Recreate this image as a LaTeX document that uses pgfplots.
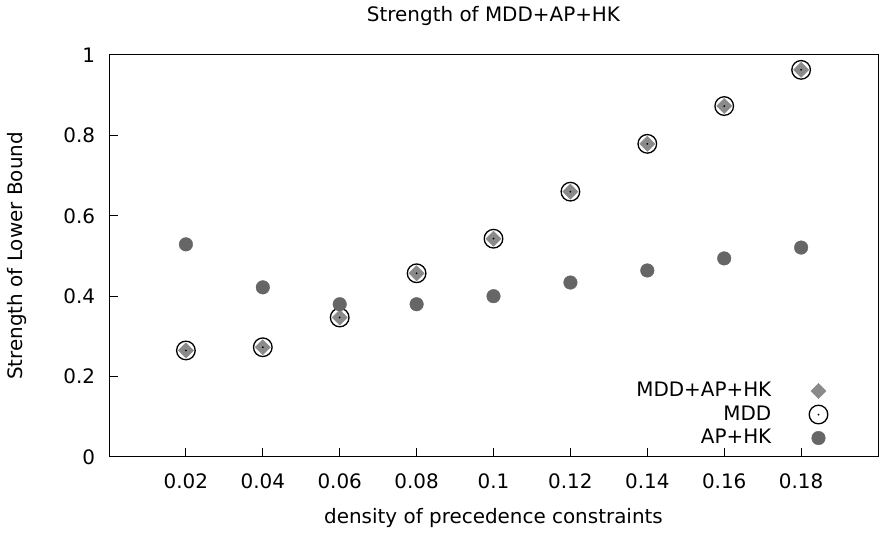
\documentclass[border=0pt]{standalone}
\usepackage{fontspec}
\setmainfont{DejaVu Sans}
\usepackage{pgfplots}
\pgfplotsset{compat=1.18}
\pgfdeclareplotmark{odot}{%
  \pgfpathcircle{\pgfpointorigin}{\pgfplotmarksize}\pgfusepathqstroke
  \pgfpathcircle{\pgfpointorigin}{1bp}\pgfusepathqfill}
\definecolor{diagray}{HTML}{8A8A8A}
\definecolor{dotgray}{HTML}{666666}
\begin{document}
\fontsize{20}{23}\selectfont
\begin{tikzpicture}[x=1bp,y=1bp]
\useasboundingbox (0,0) rectangle (882,533);
\begin{axis}[
  at={(109bp,76bp)}, anchor=south west,
  scale only axis, width=769bp, height=402bp,
  xmin=0, xmax=0.2, ymin=0, ymax=1,
  xtick={0.02,0.04,0.06,0.08,0.1,0.12,0.14,0.16,0.18},
  ytick={0,0.2,0.4,0.6,0.8,1},
  xticklabels={0.02,0.04,0.06,0.08,0.1,0.12,0.14,0.16,0.18},
  yticklabels={0,0.2,0.4,0.6,0.8,1},
  tick align=inside, xtick pos=lower, ytick pos=left,
  major tick length=9bp,
  axis line style={line width=1bp},
  tick style={line width=1bp, black},
  xticklabel style={anchor=base, yshift=-32bp},
  yticklabel style={anchor=east, xshift=-7bp},
  title={Strength of MDD+AP+HK},
  xlabel={density of precedence constraints},
  ylabel={Strength of Lower Bound},
  title style={at={([yshift=28bp]axis description cs:0.5,1)}, anchor=base},
  xlabel style={at={([yshift=-67bp]axis description cs:0.5,0)}, anchor=base},
  ylabel style={at={([xshift=-86bp]axis description cs:0,0.5)}, anchor=base},
  legend style={draw=none, fill=none, at={(0.679,0.015)}, anchor=south west,
    row sep=2bp},
  legend cell align=right, legend plot pos=right,
  legend image code/.code={\path (0bp,0bp); \draw[#1] plot coordinates {(45bp,0)};},
]
\addplot[only marks, mark=square*, mark size=5.4bp, mark options={rotate=45, draw=diagray, fill=diagray}]
  coordinates {(0.02,0.265)(0.04,0.273)(0.06,0.347)(0.08,0.457)(0.1,0.543)(0.12,0.660)(0.14,0.779)(0.16,0.873)(0.18,0.963)};
\addlegendentry{MDD+AP+HK}
\addplot[only marks, mark=odot, mark size=9.3bp, mark options={black, line width=1.3bp}]
  coordinates {(0.02,0.265)(0.04,0.273)(0.06,0.347)(0.08,0.457)(0.1,0.543)(0.12,0.660)(0.14,0.779)(0.16,0.873)(0.18,0.963)};
\addlegendentry{MDD}
\addplot[only marks, mark=*, mark size=6.8bp, mark options={draw=dotgray, fill=dotgray}]
  coordinates {(0.02,0.529)(0.04,0.422)(0.06,0.380)(0.08,0.380)(0.1,0.400)(0.12,0.434)(0.14,0.464)(0.16,0.494)(0.18,0.521)};
\addlegendentry{AP+HK}
\end{axis}
\end{tikzpicture}
\end{document}
